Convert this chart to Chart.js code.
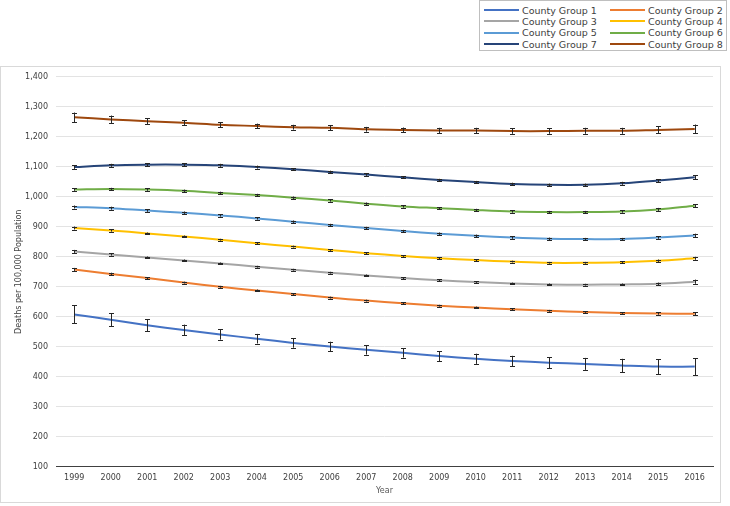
<!DOCTYPE html>
<html>
<head>
<meta charset="utf-8">
<script src="https://cdn.jsdelivr.net/npm/chart.js@4/dist/chart.umd.min.js"></script>
<style>
	body { margin: 0; background: #fff; font-family: "DejaVu Sans", Verdana, sans-serif; }
	.legend-box {
		position: absolute; left: 479px; top: 0; width: 248px; height: 51px;
		border: 1px solid #bfbfbf; box-sizing: border-box; background: #fff;
	}
	.legend-item {
		position: absolute; font-size: 9.5px; color: #404040; white-space: nowrap; line-height: 11px;
	}
	.legend-item span.swatch {
		display: inline-block; width: 35px; height: 2px; vertical-align: middle; margin-right: 3px; margin-top: -2px;
	}
	.chart-box {
		position: absolute; left: 0; top: 66px; width: 721px; height: 437px;
		border: 1px solid #d9d9d9; box-sizing: border-box;
	}
	.canvas-wrap {
		position: absolute; left: 0; top: -3px; width: 719px; height: 439px;
	}
</style>
</head>
<body>
<div class="legend-box" id="legend"></div>
<div class="chart-box"><div class="canvas-wrap"><canvas id="demoChart"></canvas></div></div>
<script>
const years = ["1999", "2000", "2001", "2002", "2003", "2004", "2005", "2006", "2007", "2008",
	"2009", "2010", "2011", "2012", "2013", "2014", "2015", "2016"];
const seriesNames = ["County Group 1", "County Group 2", "County Group 3", "County Group 4",
	"County Group 5", "County Group 6", "County Group 7", "County Group 8"];
const colors = ["#4472C4", "#ED7D31", "#A5A5A5", "#FFC000", "#5B9BD5", "#70AD47", "#264478", "#9E480E"];

const group1 = [608, 590, 572, 556, 541, 527, 513, 501, 490, 480, 469, 460, 453, 447, 443, 438, 434, 434];
const group2 = [758, 743, 729, 714, 700, 688, 676, 664, 654, 645, 637, 631, 625, 620, 616, 613, 611, 610];
const group3 = [818, 808, 798, 788, 778, 767, 757, 747, 738, 729, 722, 716, 711, 708, 707, 708, 710, 717];
const group4 = [896, 888, 878, 868, 857, 845, 834, 823, 812, 803, 795, 789, 784, 780, 780, 782, 787, 795];
const group5 = [966, 962, 954, 947, 938, 928, 917, 906, 896, 886, 877, 870, 864, 860, 859, 859, 864, 871];
const group6 = [1024, 1026, 1024, 1020, 1013, 1006, 997, 988, 977, 968, 962, 956, 951, 949, 949, 951, 958, 970];
const group7 = [1099, 1105, 1107, 1107, 1105, 1099, 1092, 1083, 1074, 1065, 1056, 1049, 1043, 1040, 1040, 1045, 1054, 1065];
const group8 = [1265, 1258, 1252, 1247, 1240, 1236, 1232, 1230, 1225, 1223, 1221, 1221, 1219, 1219, 1220, 1220, 1223, 1226];

// +/- error per year
const err1 = [30, 22, 20, 18, 17, 16, 16, 16, 16, 16, 17, 17, 17, 18, 20, 22, 25, 28];
const err2 = [5, 4, 3, 3, 3, 3, 3, 3, 3, 3, 3, 3, 3, 3, 3, 3, 4, 5];
const err3 = [5, 4, 3, 3, 3, 3, 3, 3, 3, 3, 3, 3, 3, 3, 3, 3, 4, 7];
const err4 = [5, 4, 3, 3, 3, 3, 3, 3, 3, 3, 3, 3, 3, 3, 3, 3, 4, 5];
const err5 = [5, 5, 4, 4, 4, 4, 4, 4, 4, 4, 4, 4, 4, 4, 4, 4, 4, 6];
const err6 = [4, 4, 4, 4, 4, 4, 4, 4, 4, 4, 4, 4, 4, 4, 4, 4, 5, 5];
const err7 = [6, 5, 5, 5, 5, 5, 4, 4, 4, 4, 4, 4, 4, 4, 4, 5, 5, 7];
const err8 = [16, 13, 10, 8, 8, 8, 8, 8, 8, 8, 9, 9, 9, 9, 10, 10, 12, 15];

const values = [group1, group2, group3, group4, group5, group6, group7, group8];
const errors = [err1, err2, err3, err4, err5, err6, err7, err8];

const font = "'DejaVu Sans', Verdana, sans-serif";

// legend built by hand, two columns
const legend = document.getElementById("legend");
seriesNames.forEach((name, i) => {
	const item = document.createElement("div");
	item.className = "legend-item";
	item.style.left = (i % 2 === 0 ? 4 : 130) + "px";
	item.style.top = (3.5 + Math.floor(i / 2) * 11.4) + "px";
	item.innerHTML = '<span class="swatch" style="background:' + colors[i] + '"></span>' + name;
	legend.appendChild(item);
});

const errorBars = {
	id: "errorBars",
	afterDatasetsDraw(chart) {
		const c = chart.ctx;
		const y = chart.scales.y;
		c.save();
		c.strokeStyle = "#262626";
		c.lineWidth = 1;
		chart.data.datasets.forEach((ds, i) => {
			chart.getDatasetMeta(i).data.forEach((pt, j) => {
				const e = ds.errors[j];
				const x = Math.round(pt.x) + 0.5;
				const top = y.getPixelForValue(ds.data[j] + e);
				const bot = y.getPixelForValue(ds.data[j] - e);
				c.beginPath();
				c.moveTo(x, top); c.lineTo(x, bot);
				c.moveTo(x - 2.5, Math.round(top) + 0.5); c.lineTo(x + 2.5, Math.round(top) + 0.5);
				c.moveTo(x - 2.5, Math.round(bot) + 0.5); c.lineTo(x + 2.5, Math.round(bot) + 0.5);
				c.stroke();
			});
		});
		c.restore();
	}
};

const ctx = document.getElementById("demoChart");
const myChart = new Chart(ctx, {
	type: "line",
	data: {
		labels: years,
		datasets: values.map((v, i) => ({
			label: seriesNames[i],
			data: v,
			errors: errors[i],
			borderColor: colors[i],
			backgroundColor: colors[i],
			borderWidth: 2,
			pointRadius: 0,
			tension: 0.35,
		})),
	},
	options: {
		responsive: true,
		maintainAspectRatio: false,
		animation: false,
		layout: { padding: { top: 1, right: 7, left: 0, bottom: 7 } },
		plugins: {
			legend: { display: false },
			tooltip: { enabled: false },
		},
		scales: {
			x: {
				offset: true,
				grid: { display: false, drawTicks: false, offset: true },
				border: { color: "#404040", width: 1 },
				ticks: { color: "#404040", font: { family: font, size: 8 }, padding: 6, maxRotation: 0 },
				title: { display: true, text: "Year", color: "#595959", font: { family: font, size: 8 }, padding: { top: -2, bottom: 0 } },
			},
			y: {
				min: 100,
				max: 1400,
				afterFit(scale) { scale.width = 55; },
				grid: { color: "#e3e3e3", drawTicks: false },
				border: { display: false },
				ticks: {
					stepSize: 100,
					color: "#404040",
					padding: 8,
					font: { family: font, size: 8 },
					callback: (v) => v.toLocaleString("en-US"),
				},
				title: { display: true, text: "Deaths per 100,000 Population", color: "#404040", font: { family: font, size: 8 }, padding: { top: 13, bottom: 0 } },
			},
		},
	},
	plugins: [errorBars],
});
</script>
</body>
</html>
